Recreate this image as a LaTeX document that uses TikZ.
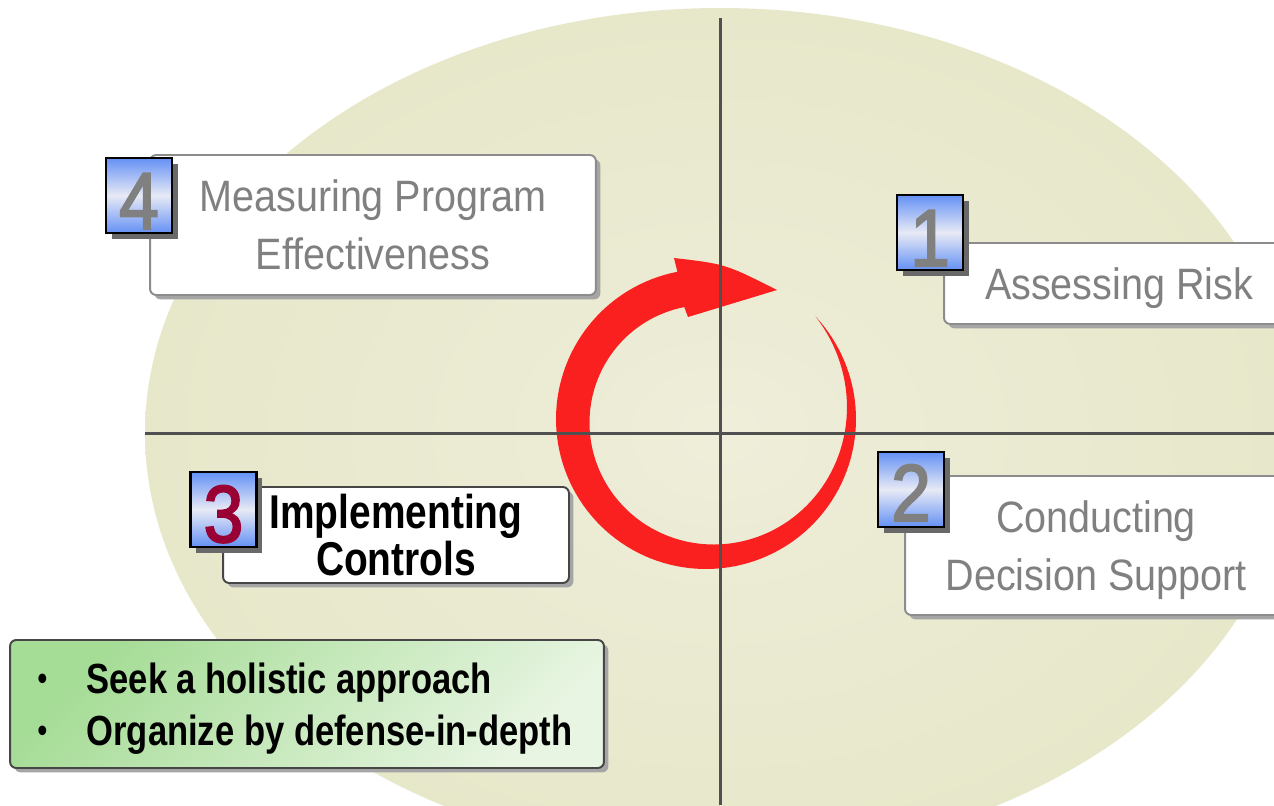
\documentclass[tikz,border=0pt]{standalone}
\usepackage{fontspec}
\setmainfont{Liberation Sans}
\newfontfamily\nr[FakeStretch=0.9]{Liberation Sans}
\newfontfamily\nb[FakeStretch=0.82]{Liberation Sans}
\newfontfamily\nd[FakeStretch=0.88,FakeBold=2.5]{Liberation Sans}
\usetikzlibrary{shadows}
\definecolor{ellin}{RGB}{238,238,218}
\definecolor{ellout}{RGB}{224,224,186}
\definecolor{axisc}{RGB}{80,80,80}
\definecolor{arrowred}{RGB}{250,32,32}
\definecolor{boxborder}{RGB}{140,140,140}
\definecolor{darkborder}{RGB}{70,70,70}
\definecolor{shadowc}{RGB}{165,165,165}
\definecolor{txtgray}{RGB}{128,128,128}
\definecolor{badgeblue}{RGB}{100,145,245}
\definecolor{badgelight}{RGB}{232,234,245}
\definecolor{badgeshadow}{RGB}{105,105,105}
\definecolor{digitred}{RGB}{153,0,51}
\definecolor{greenA}{RGB}{165,220,150}
\definecolor{greenB}{RGB}{232,245,226}
\pgfdeclareradialshading{ellshade}{\pgfpoint{0bp}{0bp}}{color(0bp)=(ellin); color(50bp)=(ellout); color(75bp)=(ellout)}
\begin{document}
\begin{tikzpicture}[x=0.02cm,y=-0.02cm,
  box/.style={draw=boxborder, line width=1.1pt, fill=white, rounded corners=3.5pt, inner sep=0pt,
    drop shadow={shadow xshift=2.5pt, shadow yshift=-2.5pt, opacity=1, fill=shadowc}},
  badge/.style={draw=black, line width=1.2pt, top color=badgeblue, bottom color=badgeblue, middle color=badgelight,
    minimum width=1.32cm, minimum height=1.5cm, inner sep=0pt,
    drop shadow={shadow xshift=3.2pt, shadow yshift=-3.2pt, opacity=1, fill=badgeshadow}},
  digit/.style={anchor=base, inner sep=0pt, font=\nd\fontsize{46}{46}\selectfont},
  graytext/.style={text=txtgray, align=center, text depth=0pt, font=\nr\fontsize{25}{33}\selectfont},
  axisline/.style={draw=axisc, line width=1.7pt}
]
\useasboundingbox (0,0) rectangle (1274,805);
\clip (0,0) rectangle (1274,805);
\fill[white] (0,0) rectangle (1274,805);
% background ellipse
\shade[shading=ellshade] (720,433) ellipse [x radius=575, y radius=425];
% circular arrow
\fill[arrowred]
  plot[domain=-43:259, samples=120, variable=\t] ({706+150*cos(\t)}, {419+150*sin(\t)})
  -- (674,258) .. controls (725.5,264) .. (777,290) -- (688,317)
  -- plot[domain=259:-43, samples=120, variable=\t]
     ({706+(150-36*(1-(1-(\t+43)/302)*(1-(\t+43)/302)))*cos(\t)},
      {419+(150-36*(1-(1-(\t+43)/302)*(1-(\t+43)/302)))*sin(\t)})
  -- cycle;
% axes
\coordinate (vtop) at (720,18);
\coordinate (vbot) at (720,805);
\coordinate (hl) at (145,433);
\coordinate (hr) at (1274,433);
\draw[axisline] (vtop) -- (vbot);
\draw[axisline] (hl) -- (hr);
% box 4
\node[box, minimum width=8.92cm, minimum height=2.8cm, graytext] (b4) at (373,225) {Measuring Program\\Effectiveness};
\node[badge] (k4) at (139,195.5) {};
\node[digit, text=txtgray] (d4) at (139,229) {4};
% box 1
\node[box, minimum width=7.0cm, minimum height=1.62cm, graytext] (b1) at (1119,283.5) {Assessing Risk};
\node[badge] (k1) at (930,232.5) {};
\node[digit, text=txtgray] (d1) at (930,266) {1};
% box 2
\node[box, minimum width=7.64cm, minimum height=2.78cm, graytext] (b2) at (1096,545.5) {Conducting\\Decision Support};
\node[badge] (k2) at (911,489.5) {};
\node[digit, text=txtgray] (d2) at (911,521) {2};
% box 3
\node[box, draw=darkborder, minimum width=6.92cm, minimum height=1.92cm, align=center,
  font=\nb\bfseries\fontsize{27}{26.5}\selectfont] (b3) at (396,535) {Implementing\\Controls};
\node[badge] (k3) at (223.5,509.5) {};
\node[digit, text=digitred] (d3) at (223.5,542) {3};
% green box
\node[box, draw=darkborder, top color=greenA, bottom color=greenB, shading angle=45,
  minimum width=11.88cm, minimum height=2.56cm] (g) at (307,704) {};
\node[anchor=west, align=left, inner sep=0pt, text depth=0pt,
  font=\nb\bfseries\fontsize{24}{29.5}\selectfont] (gt) at (37,704)
  {\makebox[28pt][l]{\raisebox{1.5pt}{\mdseries\fontsize{20}{20}\selectfont\textbullet}}Seek a holistic approach\\
   \makebox[28pt][l]{\raisebox{1.5pt}{\mdseries\fontsize{20}{20}\selectfont\textbullet}}Organize by defense-in-depth};
\end{tikzpicture}
\end{document}
